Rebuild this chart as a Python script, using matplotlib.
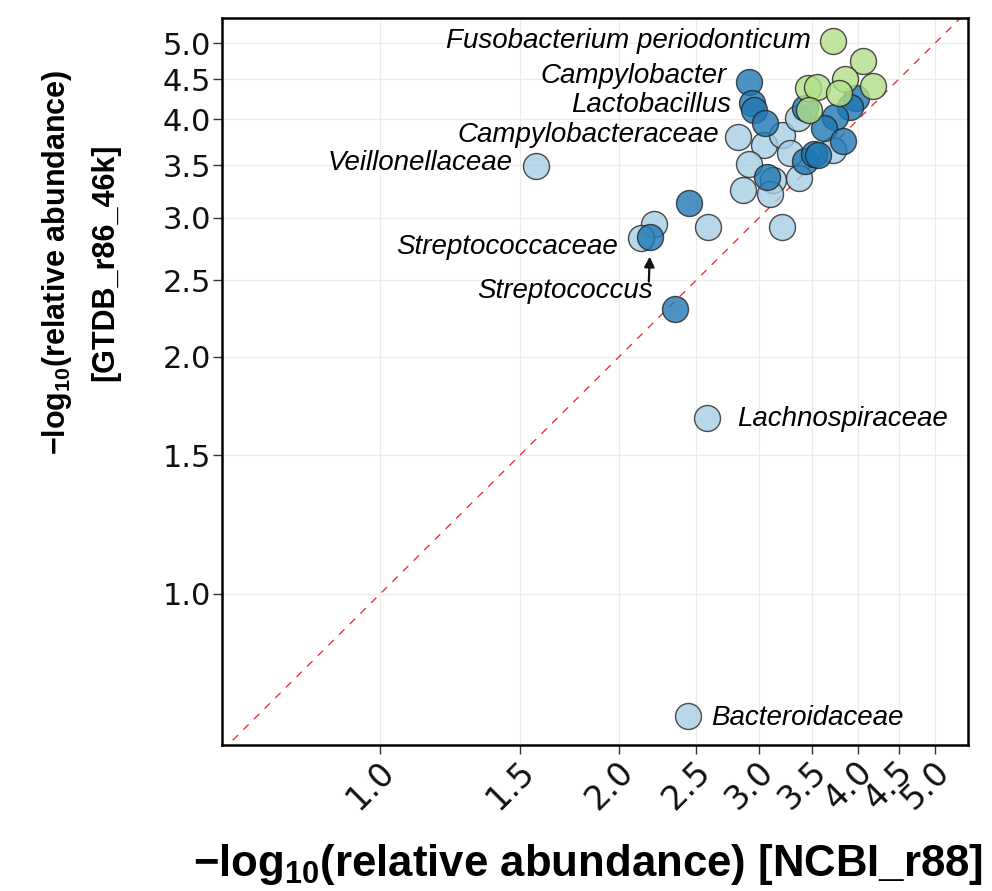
import numpy as np
import matplotlib
matplotlib.use("Agg")
import matplotlib.pyplot as plt
import matplotlib.transforms as mtransforms
from matplotlib import font_manager

# -log10(relative abundance), NCBI_r88 (x) vs GTDB_r86_46k (y)
light_ncbi = [1.57, 2.58, 2.44, 2.21, 2.13, 2.59, 3.21, 2.82, 3.04, 3.21, 3.28, 2.91, 3.12, 2.86, 3.10, 3.37, 3.72, 3.36]
light_gtdb = [3.49, 1.67, 0.70, 2.95, 2.83, 2.92, 2.92, 3.80, 3.71, 3.82, 3.63, 3.51, 3.35, 3.25, 3.22, 3.37, 3.66, 4.02]

dark_ncbi = [2.91, 2.94, 2.96, 3.05, 3.43, 3.98, 3.91, 3.74, 3.62, 3.83, 3.43, 3.52, 3.56, 3.07, 2.45, 2.19, 2.35]
dark_gtdb = [4.46, 4.20, 4.11, 3.96, 4.13, 4.26, 4.15, 4.03, 3.90, 3.76, 3.54, 3.62, 3.60, 3.38, 3.13, 2.84, 2.30]

green_ncbi = [3.72, 4.06, 3.46, 3.55, 3.85, 3.78, 4.18, 3.47]
green_gtdb = [5.03, 4.75, 4.39, 4.40, 4.50, 4.32, 4.41, 4.11]

ticks = [1.0, 1.5, 2.0, 2.5, 3.0, 3.5, 4.0, 4.5, 5.0]
tick_labels = ["1.0", "1.5", "2.0", "2.5", "3.0", "3.5", "4.0", "4.5", "5.0"]

names = {f.name for f in font_manager.fontManager.ttflist}
narrow = next((n for n in ["Liberation Sans Narrow", "DejaVu Sans Condensed"] if n in names), None)

plt.rcParams["font.family"] = ["Liberation Sans", "DejaVu Sans"]
plt.rcParams["mathtext.fontset"] = "custom"
plt.rcParams["mathtext.rm"] = "Liberation Sans:bold"
plt.rcParams["mathtext.bf"] = "Liberation Sans:bold"

fig = plt.figure(figsize=(9.92, 8.91), dpi=100)
ax = fig.add_axes([0.2238, 0.1639, 0.752, 0.8159])
ax.set_xscale("log")
ax.set_yscale("log")
ax.set_xlim(0.632, 5.5)
ax.set_ylim(0.643, 5.38)

ax.grid(True, which="major", color="#ebebeb", linewidth=0.9)
ax.set_axisbelow(True)

lo, hi = 0.632, 5.5
ax.plot([lo, hi], [lo, hi], color="#ee2222", linestyle=(0, (6, 6)), linewidth=0.9, zorder=2)

kw = dict(s=350, edgecolors="#222222", linewidths=1.0, alpha=0.8, zorder=3)
ax.scatter(light_ncbi, light_gtdb, color="#a6cee3", **kw)
ax.scatter(dark_ncbi, dark_gtdb, color="#1f78b4", **kw)
ax.scatter(green_ncbi, green_gtdb, color="#b2df8a", **kw)

# labels: (text, x, y, offset in points, ha)
labels = [
    ("Fusobacterium periodonticum", green_ncbi[0], green_gtdb[0], (-16, 0), "right"),
    ("Campylobacter", dark_ncbi[0], dark_gtdb[0], (-16, 4.3), "right"),
    ("Lactobacillus", dark_ncbi[1], dark_gtdb[1], (-15, -1.4), "right"),
    ("Campylobacteraceae", light_ncbi[7], light_gtdb[7], (-13.7, 1.4), "right"),
    ("Veillonellaceae", light_ncbi[0], light_gtdb[0], (-16.5, 2.2), "right"),
    ("Streptococcaceae", light_ncbi[4], light_gtdb[4], (-16.5, -6.5), "right"),
    ("Streptococcus", dark_ncbi[15], dark_gtdb[15], (1.4, -38.9), "right"),
    ("Lachnospiraceae", light_ncbi[1], light_gtdb[1], (21.6, -0.7), "left"),
    ("Bacteroidaceae", light_ncbi[2], light_gtdb[2], (16.5, -1.4), "left"),
]
for text, x, y, off, ha in labels:
    ax.annotate(text, xy=(x, y), xytext=off, textcoords="offset points",
                ha=ha, va="center", fontsize=20, style="italic", zorder=4)

ax.annotate("", xy=(dark_ncbi[15], dark_gtdb[15]), xytext=(-1.2, -32.4),
            textcoords="offset points",
            arrowprops=dict(arrowstyle="-|>,head_length=0.6,head_width=0.3",
                            color="#111111", lw=1.6, shrinkA=0, shrinkB=14.4))

ax.minorticks_off()
ax.set_xticks(ticks)
ax.set_xticklabels(tick_labels)
ax.set_yticks(ticks)
ax.set_yticklabels(tick_labels)
ax.tick_params(axis="both", length=6.5, width=1.0, color="#333333", labelsize=22,
               labelcolor="#111111")
ax.tick_params(axis="y", pad=1.5)
ax.tick_params(axis="x", pad=9, labelsize=24)
shift = mtransforms.ScaledTranslation(9 / 100, 0, fig.dpi_scale_trans)
for lab in ax.get_xticklabels() + ax.get_yticklabels():
    lab.set_family("DejaVu Sans")
for lab in ax.get_xticklabels():
    lab.set_rotation(45)
    lab.set_rotation_mode("anchor")
    lab.set_ha("right")
    lab.set_va("center")
    lab.set_transform(lab.get_transform() + shift)

for sp in ax.spines.values():
    sp.set_linewidth(1.8)
    sp.set_color("black")

ax.set_xlabel("\u2212log$_{\\mathbf{10}}$(relative abundance) [NCBI_r88]",
              fontsize=31.5, fontweight="bold")
ax.xaxis.set_label_coords(0.5 - 7 / 746, (745 - 865) / 727)
ax.xaxis.label.set_va("center")

ylab_kw = dict(fontsize=25, family=narrow) if narrow else dict(fontsize=22)
ax.set_ylabel("\u2212log$_{\\mathbf{10}}$(relative abundance)\n[GTDB_r86_46k]",
              fontweight="bold", linespacing=1.7, **ylab_kw)
ax.yaxis.set_label_coords((80 - 222) / 746, 0.664)
ax.yaxis.label.set_va("center")

fig.savefig("out.png", dpi=100)
